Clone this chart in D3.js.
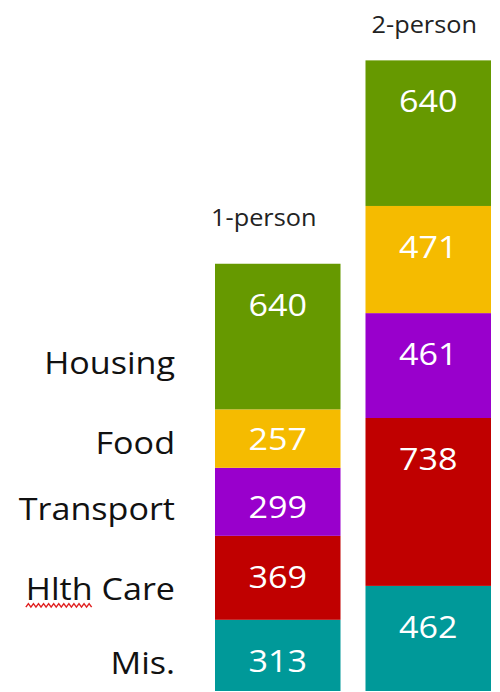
<!DOCTYPE html>
<html>
<head>
<meta charset="utf-8">
<script src="https://cdn.jsdelivr.net/npm/d3@7"></script>
<style>
  body { margin: 0; background: #fff; }
  text { font-family: "Open Sans", "Noto Sans", sans-serif; }
</style>
</head>
<body>
<div id="chart"></div>
<script>
// household budget, stacked bottom-up: Mis. at the base, Housing on top
var households = ["1-person", "2-person"];
var categories = ["Mis.", "Hlth Care", "Transport", "Food", "Housing"];
var onePerson = [313, 369, 299, 257, 640];
var twoPerson = [462, 738, 461, 471, 640];
var colors = ["#009999", "#c00000", "#9900cc", "#f5bb00", "#669900"];

var width = 500, height = 692;
var stretch = 1.1; // the source type is a bit wider than Open Sans

var svg = d3.select("#chart")
    .append("svg")
    .attr("width", width)
    .attr("height", height);

var rows = households.map(function(h, i) {
  var vals = i === 0 ? onePerson : twoPerson;
  var row = { household: h };
  categories.forEach(function(c, j) { row[c] = vals[j]; });
  return row;
});

var series = d3.stack().keys(categories)(rows);

var x = d3.scaleBand()
    .domain(households)
    .range([215, 491])
    .paddingInner(0.166)
    .paddingOuter(0);

var baseY = 691;
var y = d3.scaleLinear()
    .domain([0, 2800])
    .range([baseY, baseY - 2800 * 0.2275]);

var color = d3.scaleOrdinal().domain(categories).range(colors);

function place(tx, ty) { return "translate(" + tx + "," + ty + ") scale(" + stretch + ",1)"; }

var layer = svg.selectAll(".layer")
    .data(series)
  .enter().append("g")
    .attr("class", "layer")
    .attr("fill", function(d) { return color(d.key); });

layer.selectAll("rect")
    .data(function(d) { return d; })
  .enter().append("rect")
    .attr("x", function(d) { return x(d.data.household); })
    .attr("y", function(d) { return y(d[1]); })
    .attr("width", x.bandwidth())
    .attr("height", function(d) { return y(d[0]) - y(d[1]); });

// value labels near the top of each segment
layer.selectAll(".val")
    .data(function(d) { return d; })
  .enter().append("text")
    .attr("class", "val")
    .attr("transform", function(d) {
      return place(x(d.data.household) + x.bandwidth() / 2, Math.min(y(d[1]) + 52, y(d[0]) - 18));
    })
    .attr("text-anchor", "middle")
    .attr("fill", "#fff")
    .style("font-size", "31px")
    .text(function(d) { return d[1] - d[0]; });

// household headers
var headOffset = [{dx: -14, dy: -38}, {dx: -4, dy: -27}];
svg.selectAll(".head")
    .data(rows)
  .enter().append("text")
    .attr("class", "head")
    .attr("transform", function(d, i) {
      var top = y(d3.sum(categories, function(c) { return d[c]; }));
      return place(x(d.household) + x.bandwidth() / 2 + headOffset[i].dx, top + headOffset[i].dy);
    })
    .attr("text-anchor", "middle")
    .attr("fill", "#222")
    .style("font-size", "23px")
    .text(function(d) { return d.household; });

// category labels on the left, lined up against the 1-person bar
var first = series.map(function(s) { return { key: s.key, y0: y(s[0][0]), y1: y(s[0][1]) }; });
var cat = svg.selectAll(".cat")
    .data(first)
  .enter().append("g")
    .attr("class", "cat")
    .attr("transform", function(d) { return place(175, d.y1 + 0.76 * (d.y0 - d.y1)); });

cat.append("text")
    .attr("text-anchor", "end")
    .attr("fill", "#111")
    .style("font-size", "31px")
    .text(function(d) { return d.key; });

// spell-check squiggle under "Hlth"
cat.filter(function(d) { return d.key === "Hlth Care"; }).each(function() {
  var g = d3.select(this);
  var node = g.select("text").node();
  var x0 = node.getStartPositionOfChar(0).x;
  var len = node.getSubStringLength(0, 4);
  var pts = [];
  for (var px = 0, k = 0; px <= len; px += 2.3, k++) pts.push([x0 + px, 6 + (k % 2 ? -2 : 1.5)]);
  g.append("path")
      .attr("d", d3.line()(pts))
      .attr("fill", "none")
      .attr("stroke", "#e02020")
      .attr("stroke-width", 1.3);
});
</script>
</body>
</html>
